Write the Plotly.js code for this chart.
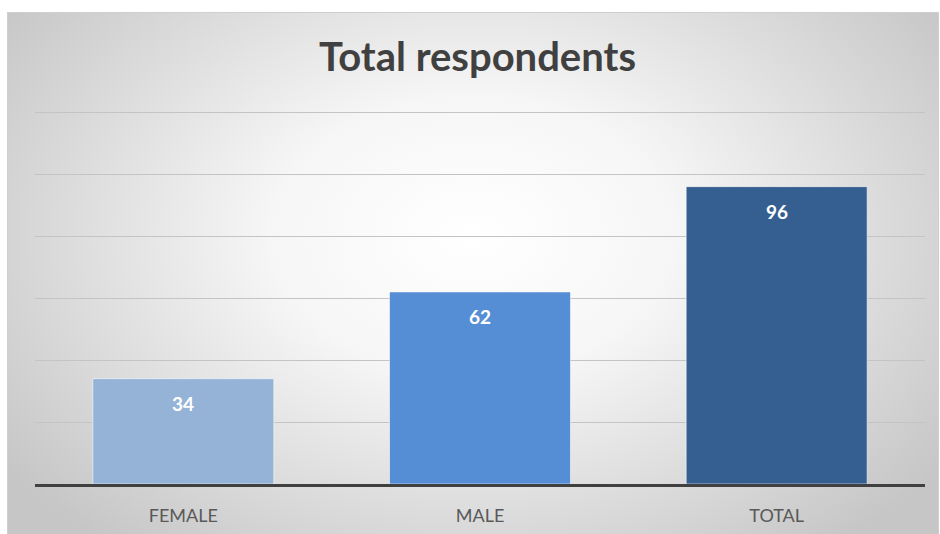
<!DOCTYPE html>
<html><head><meta charset="utf-8">
<script src="https://cdn.plot.ly/plotly-3.0.1.min.js"></script>
<style>
html,body{margin:0;padding:0;background:#fff;}
#wrap{position:relative;width:940px;height:534px;overflow:hidden;}
#bg{position:absolute;left:7px;top:12px;width:930px;height:530px;border:1px solid #cfcfcf;
 background:radial-gradient(ellipse 62% 75% at 50% 42%, #ffffff 0%, #f6f6f6 35%, #dcdcdc 70%, #c6c6c6 100%);}
#chart{position:absolute;left:0;top:0;width:940px;height:534px;}
</style></head>
<body><div id="wrap"><div id="bg"></div><div id="chart"></div></div>
<script>
const categories = ["FEMALE", "MALE", "TOTAL"];
const values = [34, 62, 96];
const barColors = ["#95B3D7", "#558ED5", "#355F91"];
const gridValues = [20, 40, 60, 80, 100, 120];

const trace = {
  type: "bar", x: categories, y: values,
  marker: {color: barColors, line: {color: "rgba(255,255,255,0.55)", width: 1}},
  hoverinfo: "x+y"
};
const annotations = categories.map((c, i) => ({
  x: c, y: values[i], xref: "x", yref: "y", text: String(values[i]),
  showarrow: false, yshift: -25,
  font: {family: "Lato, 'Open Sans', sans-serif", size: 19, color: "#ffffff", weight: "bold"}
}));
const layout = {
  width: 940, height: 534,
  paper_bgcolor: "rgba(0,0,0,0)", plot_bgcolor: "rgba(0,0,0,0)",
  margin: {l: 35, r: 15, t: 103, b: 50},
  title: {text: "<b>Total respondents</b>", x: 0.508, xanchor: "center", y: 0.893, yanchor: "middle",
    font: {family: "Lato, 'Open Sans', sans-serif", size: 40, color: "#404040"}},
  bargap: 0.39,
  xaxis: {showline: true, linecolor: "#404040", linewidth: 3, showgrid: false, ticks: "",
    ticklabelstandoff: 13,
    tickfont: {family: "Lato, 'Open Sans', sans-serif", size: 18, color: "#595959"}},
  yaxis: {range: [0, 123], tickvals: gridValues, showgrid: true, gridcolor: "#c4c4c4", gridwidth: 1,
    zeroline: false, showticklabels: false, ticks: ""},
  annotations: annotations,
  showlegend: false
};
Plotly.newPlot("chart", [trace], layout, {displayModeBar: false, staticPlot: true});
</script></body></html>
